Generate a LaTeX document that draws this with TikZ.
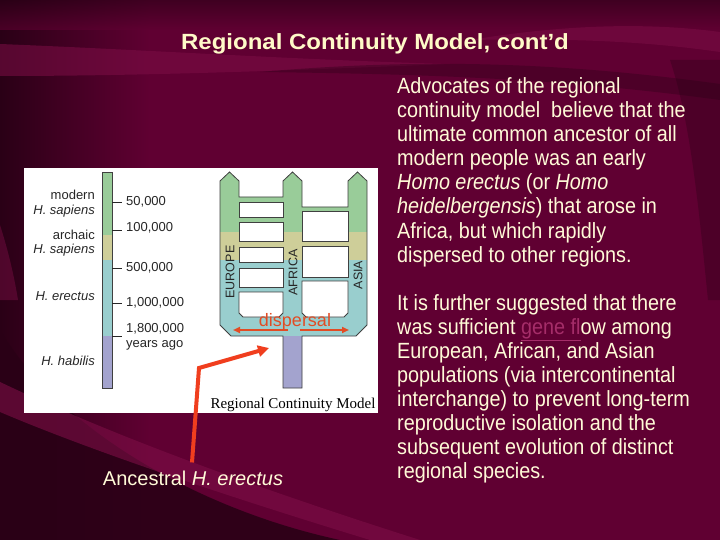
\documentclass[tikz,border=0pt]{standalone}
\usepackage{fontspec}
\setmainfont{Liberation Sans}
\newfontfamily\bodyfont[FakeStretch=0.9]{Liberation Sans}
\newfontfamily\titlefont[FakeStretch=1.09]{Liberation Sans}
\newfontfamily\capfont{Liberation Serif}
\usetikzlibrary{arrows.meta}
\definecolor{bgmaroon}{RGB}{96,0,50}
\definecolor{bgdark}{RGB}{42,0,22}
\definecolor{bglight}{RGB}{125,14,70}
\definecolor{cream}{RGB}{255,250,215}
\definecolor{titlecream}{RGB}{255,250,200}
\definecolor{tlgreen}{RGB}{153,204,153}
\definecolor{tltan}{RGB}{206,206,153}
\definecolor{tlteal}{RGB}{153,206,206}
\definecolor{tllav}{RGB}{163,163,206}
\definecolor{redarrow}{RGB}{240,62,30}
\definecolor{disp}{RGB}{226,76,36}
\definecolor{linkpink}{RGB}{165,45,105}
\begin{document}
\begin{tikzpicture}[x=1pt,y=-1pt,
  lbl/.style={font=\fontsize{13}{15}\selectfont, text=black!85, inner sep=0},
  rlbl/.style={lbl, anchor=east},
  tlbl/.style={lbl, anchor=west},
  region/.style={font=\fontsize{12.5}{14}\selectfont, text=black!85, inner sep=0, rotate=90},
  body/.style={font=\bodyfont\fontsize{22}{24}\selectfont, text=cream, anchor=base west, inner sep=0},
  outline/.style={draw=black!75, line width=0.8pt},
  tick/.style={draw=black!85, line width=0.8pt},
  redline/.style={draw=redarrow, line width=4pt, -{Triangle[length=11pt,width=11pt]}},
  disparrow/.style={draw=disp, line width=2pt, -{Triangle[length=7pt,width=6pt]}}
]
\useasboundingbox (0,0) rectangle (720,540);
% ---------- background ----------
\fill[bgmaroon] (0,0) rectangle (720,540);
\shade[left color=bgdark, right color=bgmaroon] (0,0) rectangle (150,540);
\shade[top color=bgdark, bottom color=bgmaroon, opacity=0.6] (0,0) rectangle (720,30);
\fill[bglight, opacity=0.55] (0,44) .. controls (150,50) and (300,60) .. (450,64) .. controls (300,70) and (150,76) .. (0,76) -- cycle;
\fill[bgdark, opacity=0.35] (260,72) .. controls (420,58) and (560,62) .. (720,84) -- (720,100) .. controls (560,78) and (420,74) .. (260,72) -- cycle;
\fill[bglight, opacity=0.5] (470,40) .. controls (580,22) and (660,24) .. (720,32) -- (720,52) .. controls (650,42) and (580,38) .. (470,40) -- cycle;
\fill[bgdark, opacity=0.35] (670,60) -- (720,60) -- (720,300) -- (708,300) .. controls (698,200) and (690,120) .. (670,60) -- cycle;
\fill[bglight, opacity=0.45] (0,225) .. controls (8,250) and (14,275) .. (18,300) -- (0,300) -- cycle;
\fill[bgdark, opacity=0.9] (0,330) .. controls (60,430) and (200,510) .. (340,540) -- (0,540) -- cycle;
\fill[bglight, opacity=0.6] (0,382) .. controls (80,420) and (200,470) .. (420,540) -- (370,540) .. controls (200,488) and (80,446) .. (0,412) -- cycle;
% ---------- title ----------
\node[font=\titlefont\bfseries\fontsize{22}{26}\selectfont, text=titlecream] (title) at (375,44) {Regional Continuity Model, cont’d};
% ---------- white panel ----------
\node[fill=white, minimum width=354pt, minimum height=245pt, inner sep=0, anchor=north west] (panel) at (24,168) {};
% timeline bar
\fill[tlgreen] (102,172) rectangle (112,235);
\fill[tltan] (102,235) rectangle (112,260);
\fill[tlteal] (102,260) rectangle (112,336);
\fill[tllav] (102,336) rectangle (112,388);
\draw[outline] (102,172) rectangle (112,388);
\foreach \yy in {202,230,268,303,336} \draw[tick] (112,\yy) -- (122,\yy);
\node[tlbl] (t50) at (126,202) {50,000};
\node[tlbl] (t100) at (126,228) {100,000};
\node[tlbl] (t500) at (126,268) {500,000};
\node[tlbl] (t1m) at (126,303) {1,000,000};
\node[tlbl] (t18) at (126,329) {1,800,000};
\node[tlbl] (tya) at (126,345) {years ago};
\node[rlbl] (lmod) at (95,195) {modern};
\node[rlbl] (lms) at (95,211) {\textit{H. sapiens}};
\node[rlbl] (larc) at (95,235) {archaic};
\node[rlbl] (las) at (95,250) {\textit{H. sapiens}};
\node[rlbl] (ler) at (95,296) {\textit{H. erectus}};
\node[rlbl] (lhab) at (95,361) {\textit{H. habilis}};
% trident bands
\begin{scope}
\clip (229.5,172) -- (239,181) -- (239,197) -- (283,197) -- (283,181) -- (292.5,172) -- (302,181) -- (302,207) -- (348,207) -- (348,181) -- (357.5,172) -- (367,181) -- (367,325) -- (356,336) -- (302,336) -- (302,388) -- (283,388) -- (283,336) -- (231,336) -- (220,325) -- (220,181) -- cycle;
\fill[tlgreen] (215,165) rectangle (372,232);
\fill[tltan] (215,232) rectangle (372,260);
\fill[tlteal] (215,260) rectangle (372,336);
\fill[tllav] (215,336) rectangle (372,392);
\end{scope}
\draw[outline] (229.5,172) -- (239,181) -- (239,197) -- (283,197) -- (283,181) -- (292.5,172) -- (302,181) -- (302,207) -- (348,207) -- (348,181) -- (357.5,172) -- (367,181) -- (367,325) -- (356,336) -- (302,336) -- (302,388) -- (283,388) -- (283,336) -- (231,336) -- (220,325) -- (220,181) -- cycle;
% holes
\filldraw[fill=white, outline] (239,202) rectangle (283,217);
\filldraw[fill=white, outline] (239,222) rectangle (283,241);
\filldraw[fill=white, outline] (239,247) rectangle (283,262);
\filldraw[fill=white, outline] (239,268) rectangle (283,287);
\filldraw[fill=white, outline] (239,292) -- (283,292) -- (283,313) -- (279,317) -- (243,317) -- (239,313) -- cycle;
\filldraw[fill=white, outline] (302,211) rectangle (348,241);
\filldraw[fill=white, outline] (302,246) rectangle (348,277);
\filldraw[fill=white, outline] (302,281) -- (348,281) -- (348,313) -- (344,317) -- (306,317) -- (302,313) -- cycle;
% region labels
\node[region] (eu) at (230,272) {EUROPE};
\node[region] (af) at (293,272.5) {AFRICA};
\node[region] (as) at (358,275) {ASIA};
% dispersal
\node[font=\fontsize{18}{20}\selectfont, text=disp, inner sep=0, anchor=base] (disp) at (295,326) {dispersal};
\coordinate (dls) at (288,330);
\coordinate (dl) at (233,330);
\coordinate (drs) at (300,330);
\coordinate (dr) at (349,330);
\draw[disparrow] (dls) -- (dl);
\draw[disparrow] (drs) -- (dr);
% caption
\node[font=\capfont\fontsize{15}{17}\selectfont, text=black, inner sep=0] (cap) at (293,405) {Regional Continuity Model};
% ancestral
\node[font=\fontsize{20}{22}\selectfont, text=cream, inner sep=0] (anc) at (193,478) {Ancestral \textit{H. erectus}};
\coordinate (bend) at (199,368);
\coordinate (tip) at (269,348);
\draw[redline] ([xshift=-1pt,yshift=8pt]anc.north) -- (bend) -- (tip);
% ---------- right text ----------
\foreach \t [count=\i from 0] in {
  {Advocates of the regional},
  {continuity model\ \ believe that the},
  {ultimate common ancestor of all},
  {modern people was an early},
  {\textit{Homo erectus} (or \textit{Homo}},
  {\textit{heidelbergensis}) that arose in},
  {{Africa, but which rapidly}},
  {dispersed to other regions.}}
  \node[body] (pa\i) at (397,94+24*\i) {\t};
\foreach \t [count=\i from 0] in {
  {It is further suggested that there},
  {was sufficient {\color{linkpink}\underline{gene fl}}ow among},
  {{European, African, and Asian}},
  {populations (via intercontinental},
  {interchange) to prevent long-term},
  {reproductive isolation and the},
  {subsequent evolution of distinct},
  {regional species.}}
  \node[body] (pb\i) at (397,310+24*\i) {\t};
\end{tikzpicture}
\end{document}
